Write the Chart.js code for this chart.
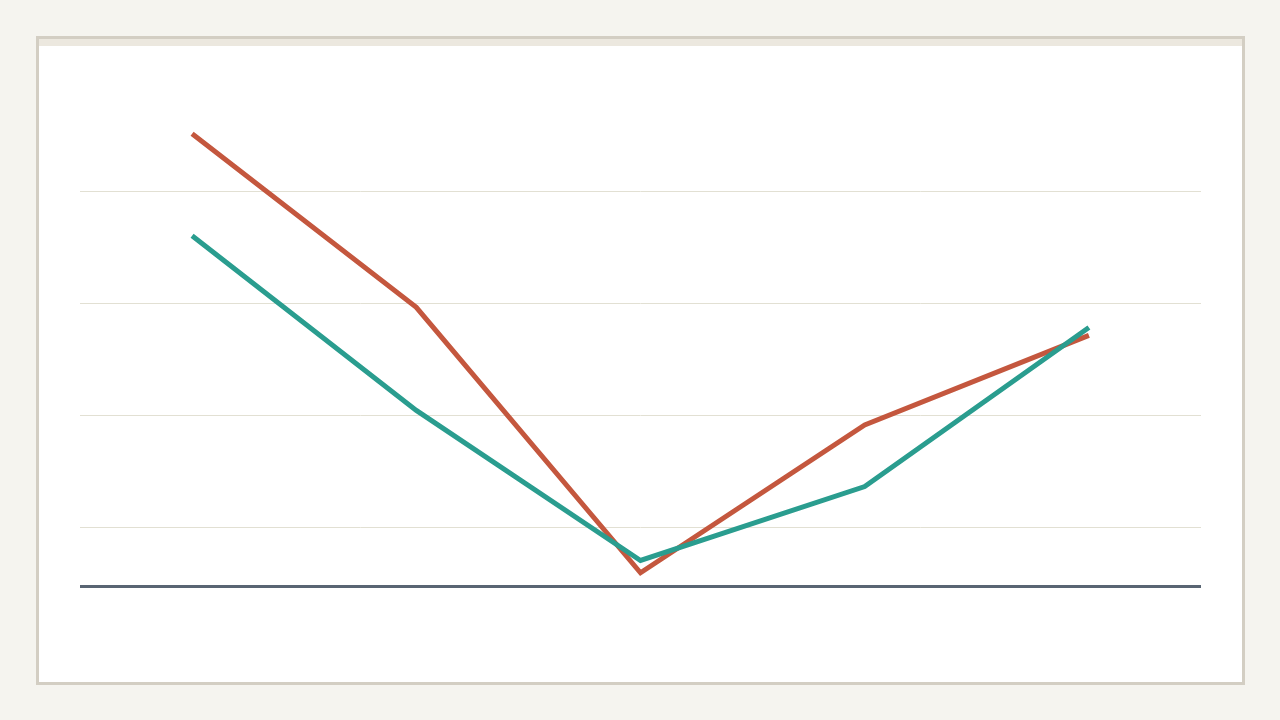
<!DOCTYPE html>
<html>
<head>
<meta charset="utf-8">
<script src="https://cdn.jsdelivr.net/npm/chart.js@4"></script>
<style>
  html, body { margin: 0; padding: 0; background: #f5f4ef; width: 1280px; height: 720px; overflow: hidden; }
  .card { position: absolute; left: 36px; top: 36px; width: 1209px; height: 649px; box-sizing: border-box;
          border: 3px solid #d3cec3; background: #fff; }
  .card .strip { position: absolute; left: 0; top: 0; right: 0; height: 7px; background: #ece8df; }
  .wrap { position: absolute; left: 80px; top: 40px; width: 1121px; height: 580px; }
</style>
</head>
<body>
<div class="card"><div class="strip"></div></div>
<div class="wrap"><canvas id="lineChart"></canvas></div>
<script>
// data
const categories = ['A', 'B', 'C', 'D', 'E'];
const seriesTeal = [36.1, 20.5, 7.1, 13.7, 27.9];
const seriesRed = [45.2, 29.7, 6.0, 19.2, 27.2];
const gridTicks = [10, 20, 30, 40];
const yMin = 4.82;
const yMax = 50;

const ctx = document.getElementById('lineChart').getContext('2d');
const chart = new Chart(ctx, {
  type: 'line',
  data: {
    labels: categories,
    datasets: [
      { label: 'teal', data: seriesTeal, borderColor: '#2a9d8f', borderWidth: 5, pointRadius: 0, fill: false, tension: 0 },
      { label: 'red', data: seriesRed, borderColor: '#c4573e', borderWidth: 5, pointRadius: 0, fill: false, tension: 0 }
    ]
  },
  options: {
    responsive: true,
    maintainAspectRatio: false,
    animation: false,
    layout: { padding: { top: 40, bottom: 34, left: 0, right: 0 } },
    plugins: { legend: { display: false }, tooltip: { enabled: false } },
    scales: {
      x: {
        offset: true,
        grid: { display: false, drawTicks: false },
        ticks: { display: false },
        border: { display: true, color: '#596573', width: 3 }
      },
      y: {
        min: yMin,
        max: yMax,
        afterBuildTicks: axis => { axis.ticks = gridTicks.map(v => ({ value: v })); },
        grid: { color: '#e2e0d3', lineWidth: 1, drawTicks: false },
        ticks: { display: false },
        border: { display: false }
      }
    }
  }
});
</script>
</body>
</html>
